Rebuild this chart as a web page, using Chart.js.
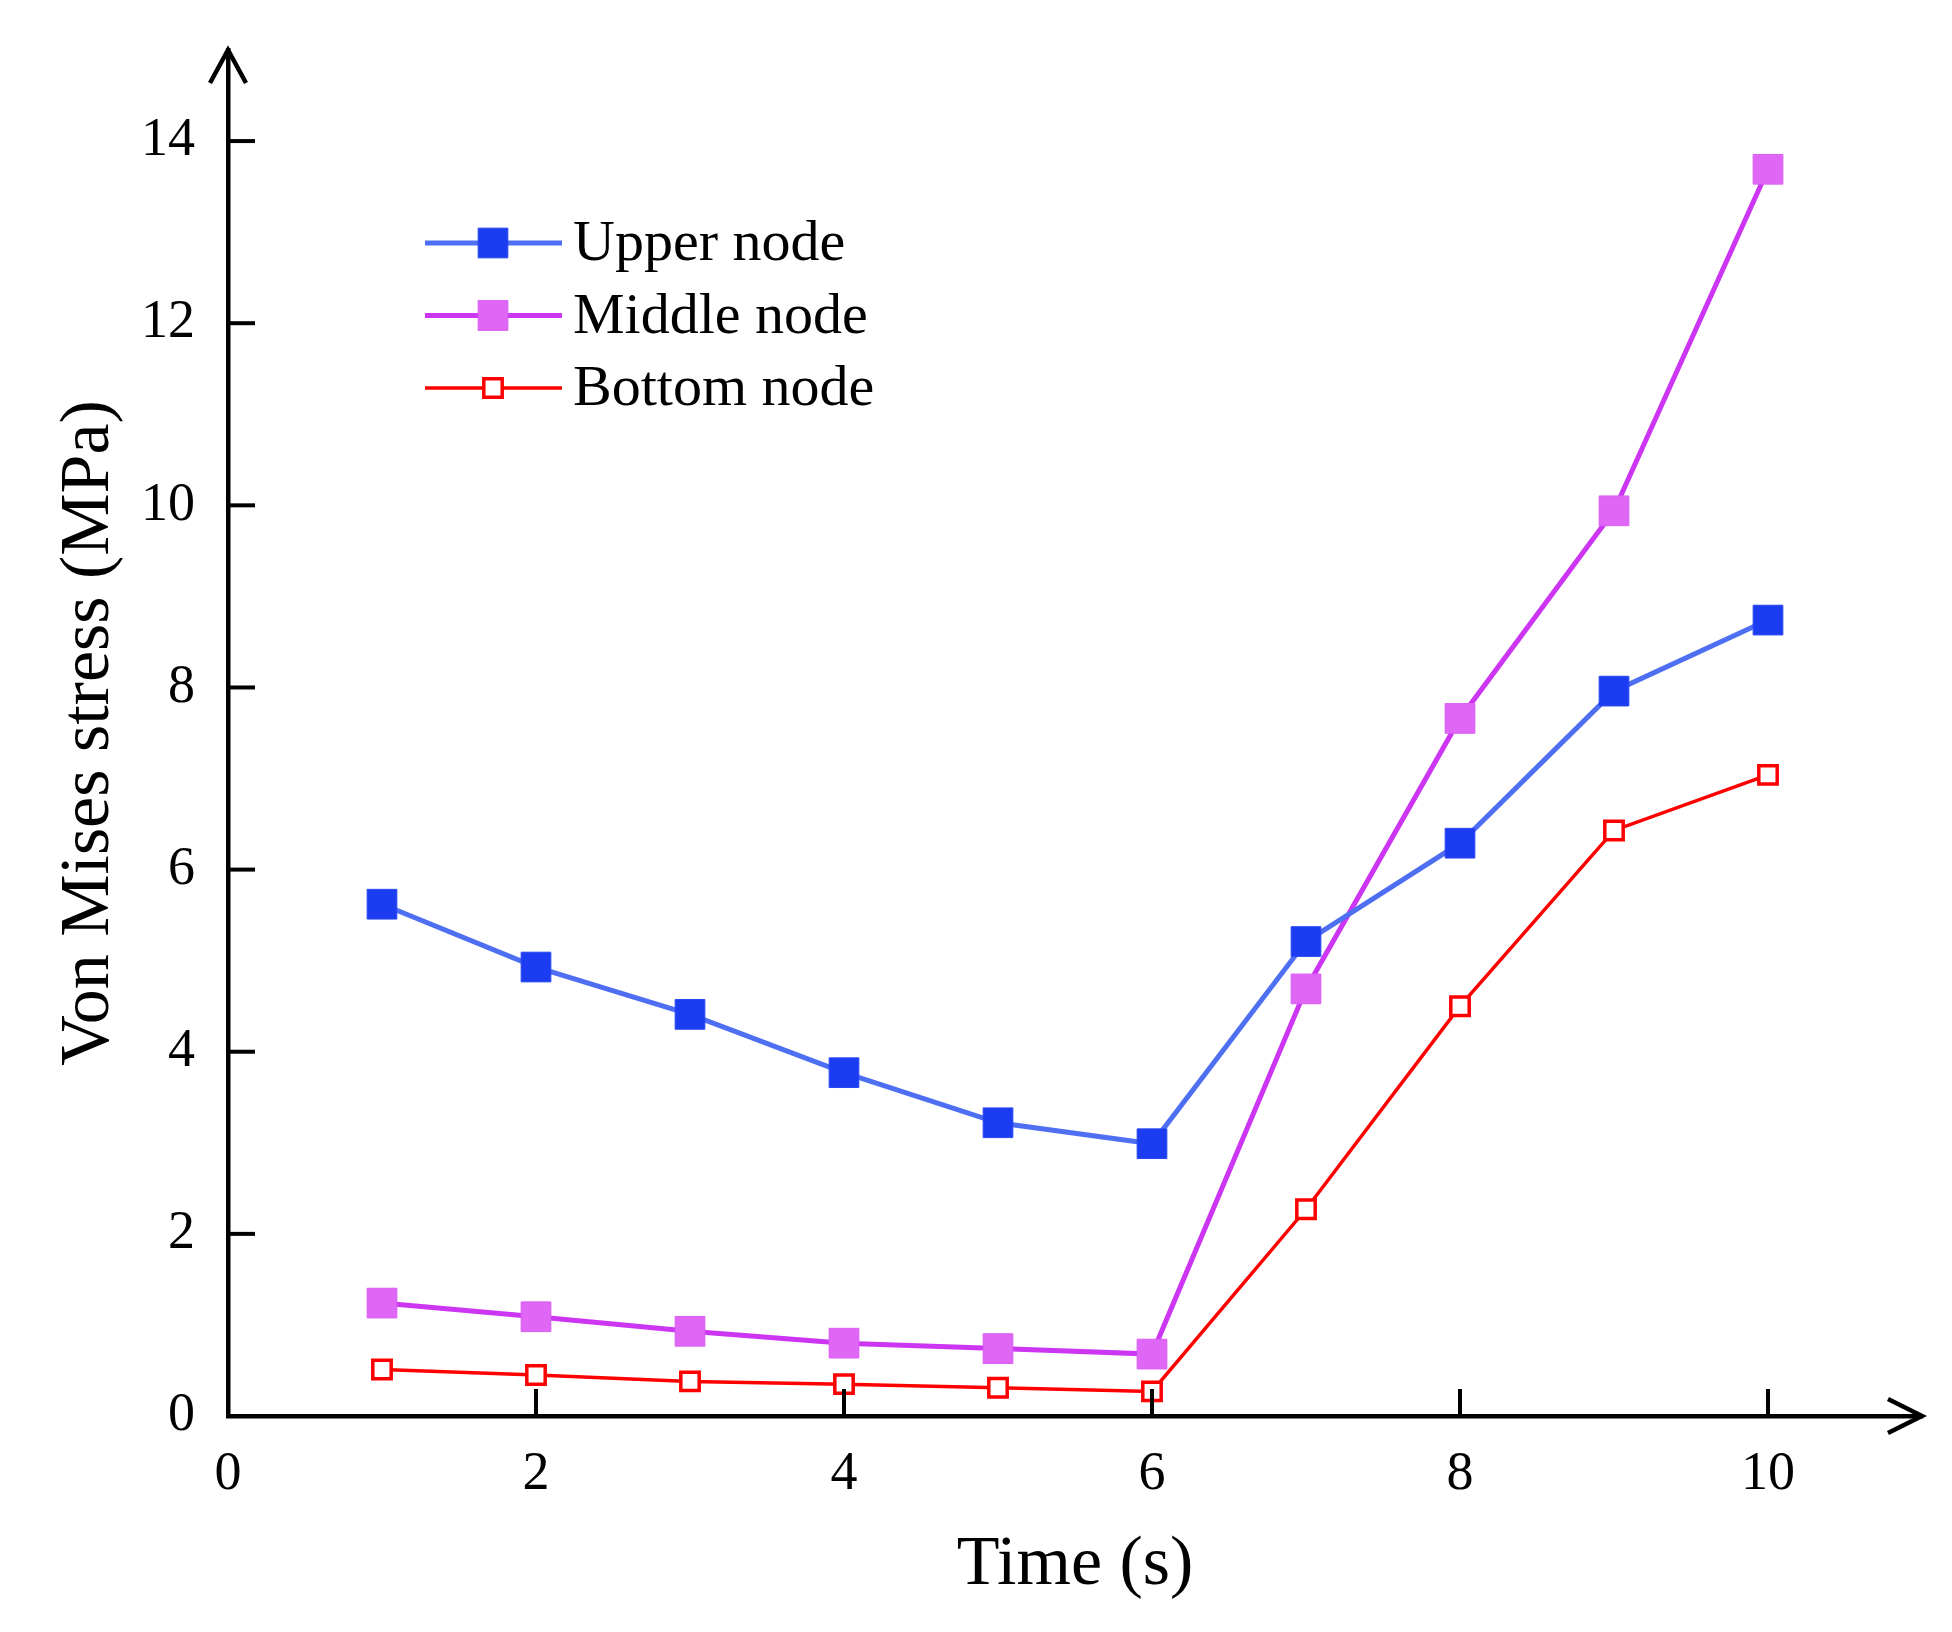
<!DOCTYPE html>
<html>
<head>
<meta charset="utf-8">
<script src="https://cdn.jsdelivr.net/npm/chart.js@4/dist/chart.umd.min.js"></script>
<style>
  html, body { margin: 0; padding: 0; background: #fff; }
  #wrap { width: 1952px; height: 1632px; }
</style>
</head>
<body>
<div id="wrap"><canvas id="c" width="1952" height="1632"></canvas></div>
<script>
// time steps (s)
var timeSteps = [1, 2, 3, 4, 5, 6, 7, 8, 9, 10];
// Von Mises stress (MPa)
var upperNode  = [5.62, 4.93, 4.41, 3.77, 3.22, 2.99, 5.21, 6.29, 7.96, 8.74];
var middleNode = [1.24, 1.09, 0.93, 0.80, 0.74, 0.68, 4.69, 7.66, 9.94, 13.69];
var bottomNode = [0.51, 0.45, 0.38, 0.35, 0.31, 0.27, 2.27, 4.50, 6.43, 7.04];
var seriesNames = ['Upper node', 'Middle node', 'Bottom node'];
var xTickValues = [0, 2, 4, 6, 8, 10];
var yTickValues = [0, 2, 4, 6, 8, 10, 12, 14];

var FONT = '"Liberation Serif", "Times New Roman", serif';

function pts(ys) {
	return ys.map(function(v, i) { return {x: timeSteps[i], y: v}; });
}

// inward tick marks + arrow heads on the axes
var axisDeco = {
	id: 'axisDeco',
	afterDraw: function(chart) {
		var ctx = chart.ctx, area = chart.chartArea;
		var xs = chart.scales.x, ys = chart.scales.y;
		ctx.save();
		ctx.strokeStyle = '#000';
		ctx.lineWidth = 4;
		ctx.lineCap = 'butt';
		xTickValues.forEach(function(v) {
			if (v === 0) return;
			var px = xs.getPixelForValue(v);
			ctx.beginPath();
			ctx.moveTo(px, area.bottom);
			ctx.lineTo(px, area.bottom - 27);
			ctx.stroke();
		});
		yTickValues.forEach(function(v) {
			if (v === 0) return;
			var py = ys.getPixelForValue(v);
			ctx.beginPath();
			ctx.moveTo(area.left, py);
			ctx.lineTo(area.left + 27, py);
			ctx.stroke();
		});
		//arrows
		ctx.lineWidth = 4.5;
		ctx.beginPath();
		ctx.moveTo(area.left - 18, area.top + 33);
		ctx.lineTo(area.left, area.top);
		ctx.lineTo(area.left + 18, area.top + 33);
		ctx.stroke();
		ctx.beginPath();
		ctx.moveTo(area.right - 34, area.bottom - 17);
		ctx.lineTo(area.right, area.bottom);
		ctx.lineTo(area.right - 34, area.bottom + 17);
		ctx.stroke();
		ctx.restore();
	}
};

// legend drawn inside the plot, top left
var innerLegend = {
	id: 'innerLegend',
	afterDatasetsDraw: function(chart) {
		var ctx = chart.ctx, area = chart.chartArea;
		var x0 = area.left + 197, y0 = area.top + 193, rowH = 72.5;
		ctx.save();
		chart.data.datasets.forEach(function(ds, i) {
			var y = y0 + i * rowH;
			ctx.strokeStyle = ds.borderColor;
			ctx.lineWidth = ds.borderWidth;
			ctx.beginPath();
			ctx.moveTo(x0, y);
			ctx.lineTo(x0 + 137, y);
			ctx.stroke();
			ctx.fillStyle = ds.pointBackgroundColor;
			ctx.strokeStyle = ds.pointBorderColor;
			ctx.lineWidth = ds.pointBorderWidth;
			var s = ds.pointRadius * Math.SQRT1_2;
			ctx.beginPath();
			ctx.rect(x0 + 68 - s, y - s, 2 * s, 2 * s);
			ctx.fill();
			ctx.stroke();
			ctx.fillStyle = '#000';
			ctx.font = '58px ' + FONT;
			ctx.textBaseline = 'middle';
			ctx.textAlign = 'left';
			ctx.fillText(ds.label, x0 + 148, y + 2);
		});
		ctx.restore();
	}
};

var ctx = document.getElementById('c');
var chart = new Chart(ctx, {
	type: 'line',
	data: {
		datasets: [
			{
				label: seriesNames[0],
				data: pts(upperNode),
				borderColor: '#4f6ff2',
				borderWidth: 5,
				pointStyle: 'rect',
				pointRadius: 21,
				pointBackgroundColor: '#1c3cf2',
				pointBorderColor: '#2a48f2',
				pointBorderWidth: 1
			},
			{
				label: seriesNames[1],
				data: pts(middleNode),
				borderColor: '#cc36f2',
				borderWidth: 5,
				pointStyle: 'rect',
				pointRadius: 21,
				pointBackgroundColor: '#e066f6',
				pointBorderColor: '#d95cf4',
				pointBorderWidth: 1
			},
			{
				label: seriesNames[2],
				data: pts(bottomNode),
				borderColor: '#ff0000',
				borderWidth: 3.5,
				pointStyle: 'rect',
				pointRadius: 13,
				pointBackgroundColor: '#ffffff',
				pointBorderColor: '#ff0000',
				pointBorderWidth: 3.5
			}
		]
	},
	options: {
		responsive: false,
		animation: false,
		devicePixelRatio: 1,
		layout: { padding: { top: 50, right: 30, left: 0, bottom: 0 } },
		plugins: {
			legend: { display: false },
			tooltip: { enabled: false }
		},
		elements: { line: { tension: 0 } },
		scales: {
			x: {
				type: 'linear',
				min: 0,
				max: 11,
				grid: { display: false, drawTicks: false },
				border: { display: true, color: '#000', width: 4.5 },
				ticks: {
					stepSize: 2,
					padding: 26,
					color: '#000',
					font: { family: FONT, size: 54 }
				},
				afterBuildTicks: function(scale) {
					scale.ticks = xTickValues.map(function(v) { return {value: v}; });
				},
				afterFit: function(scale) {
					scale.height = 216;
					scale.paddingLeft = 0;
					scale.paddingRight = 0;
				},
				title: {
					display: true,
					text: 'Time (s)',
					color: '#000',
					font: { family: FONT, size: 70 },
					padding: { top: 0, bottom: 24 }
				}
			},
			y: {
				min: 0,
				max: 15,
				grid: { display: false, drawTicks: false },
				border: { display: true, color: '#000', width: 4.5 },
				ticks: {
					stepSize: 2,
					padding: 33,
					color: '#000',
					font: { family: FONT, size: 54 }
				},
				afterBuildTicks: function(scale) {
					scale.ticks = yTickValues.map(function(v) { return {value: v}; });
				},
				afterFit: function(scale) {
					scale.width = 228;
					scale.paddingTop = 0;
					scale.paddingBottom = 0;
				},
				title: {
					display: true,
					text: 'Von Mises stress (MPa)',
					color: '#000',
					font: { family: FONT, size: 70 },
					padding: { top: 48, bottom: 0 }
				}
			}
		}
	},
	plugins: [axisDeco, innerLegend]
});
</script>
</body>
</html>
